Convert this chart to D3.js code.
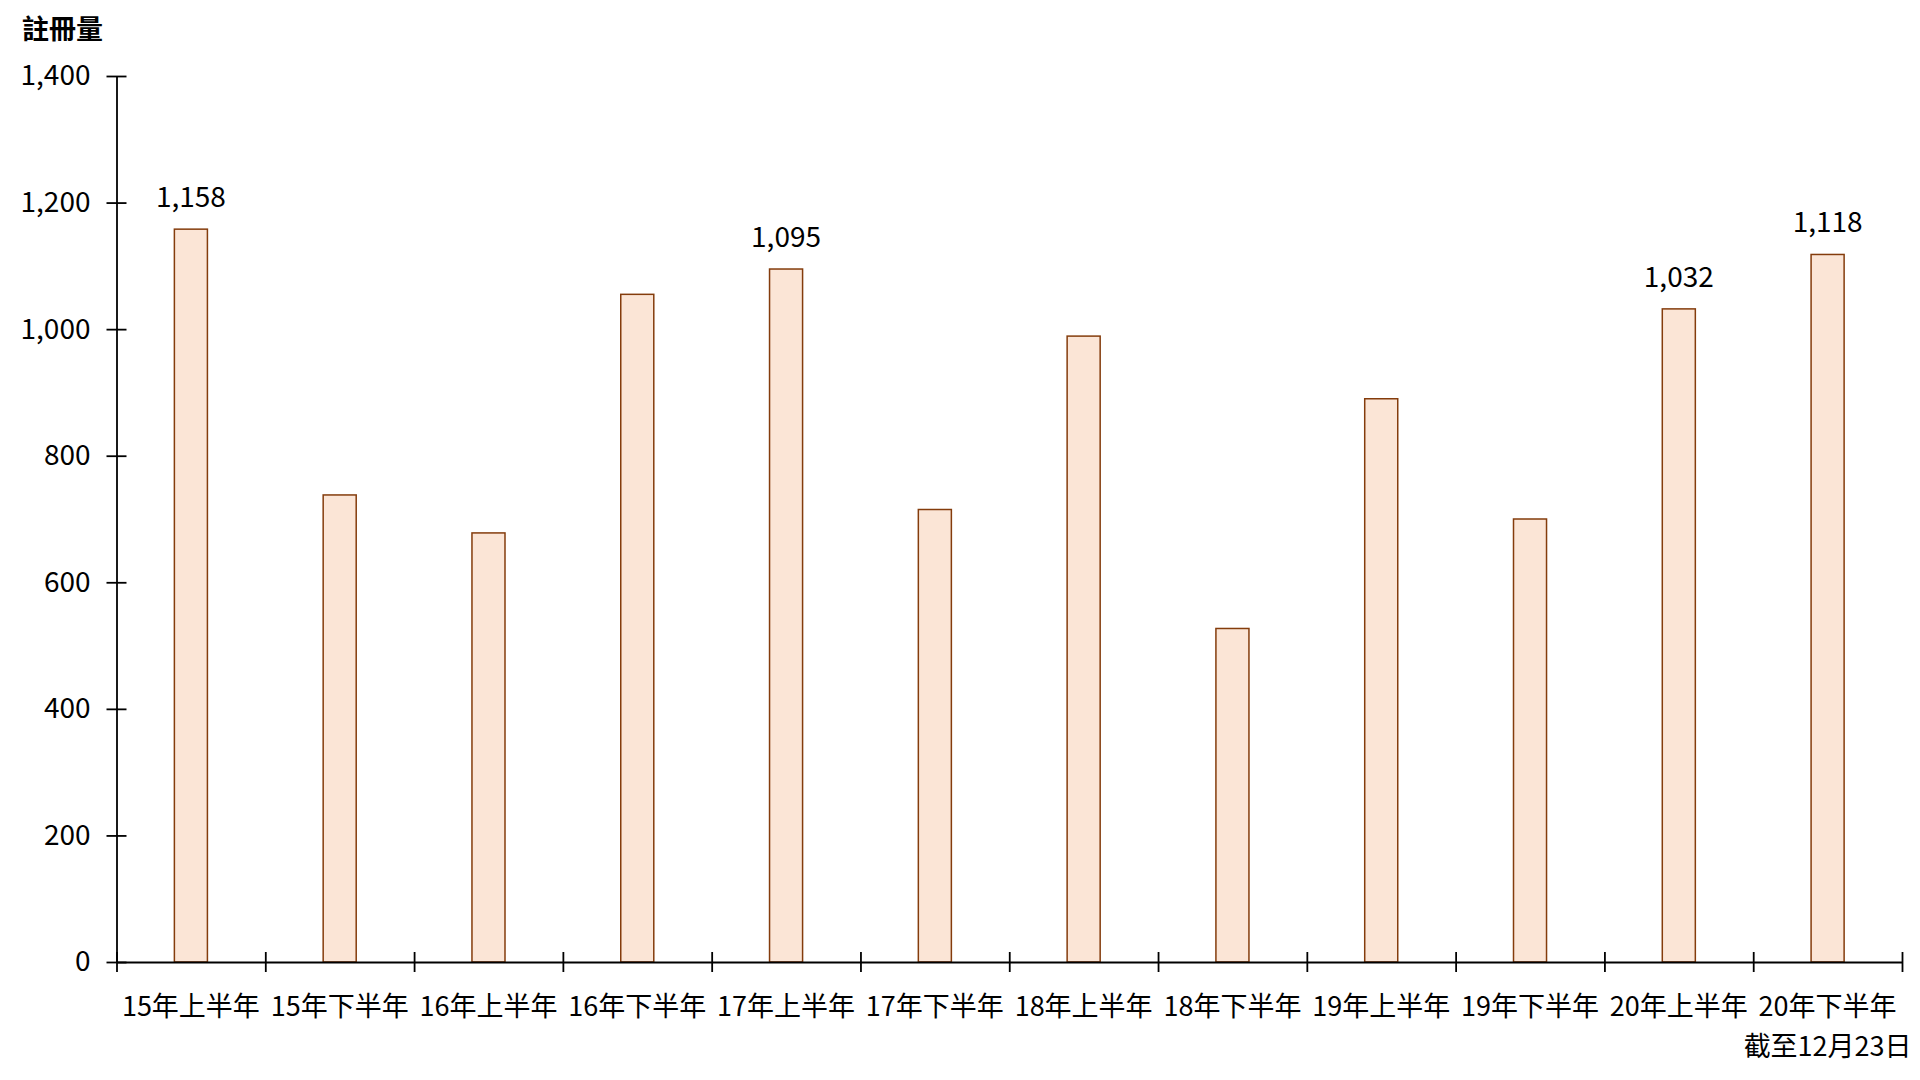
<!DOCTYPE html>
<html>
<head>
<meta charset="utf-8">
<script src="https://cdn.jsdelivr.net/npm/d3@7"></script>
<style>
  html, body { margin: 0; padding: 0; background: #fff; }
  svg text { font-family: "Noto Sans CJK TC", "Noto Sans", sans-serif; fill: #000; }
</style>
</head>
<body>
<div id="canvas" class="canvas"></div>
<script>
// data
var categories = ['15年上半年','15年下半年','16年上半年','16年下半年','17年上半年','17年下半年',
                  '18年上半年','18年下半年','19年上半年','19年下半年','20年上半年','20年下半年'];
var subLabels = ['','','','','','','','','','','','截至12月23日'];
var values = [1158, 738, 678, 1055, 1095, 715, 989, 527, 890, 700, 1032, 1118];
var shownLabels = [true, false, false, false, true, false, false, false, false, false, true, true];
var yTicks = [0, 200, 400, 600, 800, 1000, 1200, 1400];
var yTitle = '註冊量';

var outerWidth = 1920, outerHeight = 1080;
var m = {t:76, r:18, b:118, l:116.5};
var w = outerWidth - m.l - m.r,
    h = outerHeight - m.t - m.b;

var svg = d3.select('.canvas')
    .append('svg')
    .attr('width', outerWidth)
    .attr('height', outerHeight);

var plot = svg.append('g')
    .attr('transform', 'translate(' + m.l + ',' + m.t + ')');

// scales
var scaleX = d3.scaleBand()
    .domain(categories)
    .range([0, w])
    .padding(0);
var scaleEdge = d3.scaleLinear()
    .domain([0, categories.length])
    .range([0, w]);
var scaleY = d3.scaleLinear()
    .domain([0, 1400])
    .range([h, 0]);

var barW = scaleX.bandwidth() * 0.222;

// bars
plot.selectAll('.bar')
    .data(values)
    .enter()
    .append('rect')
    .attr('class', 'bar')
    .attr('x', function(d, i){ return scaleX(categories[i]) + scaleX.bandwidth()/2 - barW/2; })
    .attr('y', function(d){ return scaleY(d); })
    .attr('width', barW)
    .attr('height', function(d){ return h - scaleY(d); })
    .style('fill', '#FBE5D6')
    .style('stroke', '#843C0C')
    .style('stroke-width', 1.5);

// data labels
plot.selectAll('.val')
    .data(values)
    .enter()
    .filter(function(d, i){ return shownLabels[i]; })
    .append('text')
    .attr('class', 'val')
    .attr('x', function(d){ return scaleX(categories[values.indexOf(d)]) + scaleX.bandwidth()/2; })
    .attr('y', function(d){ return scaleY(d) - 22; })
    .attr('text-anchor', 'middle')
    .style('font-size', '28px')
    .text(function(d){ return d3.format(',')(d); });

// y axis
var axisY = d3.axisLeft(scaleY)
    .tickValues(yTicks)
    .tickFormat(d3.format(','))
    .tickSizeOuter(0)
    .tickPadding(20);
var gy = plot.append('g').attr('class', 'axis-y').call(axisY);
gy.selectAll('.tick line').attr('x1', -10).attr('x2', 10);

// x axis, ticks at band edges
var axisX = d3.axisBottom(scaleEdge)
    .tickValues(d3.range(categories.length + 1))
    .tickFormat('')
    .tickSizeOuter(0);
var gx = plot.append('g')
    .attr('class', 'axis-x')
    .attr('transform', 'translate(0,' + h + ')')
    .call(axisX);
gx.selectAll('.tick line').attr('y1', -10).attr('y2', 10);

svg.selectAll('.domain, .tick line')
    .style('stroke', '#000')
    .style('stroke-width', 1.8);
gy.selectAll('.tick text').style('font-size', '28px');

// category labels
var cat = plot.append('g').attr('class', 'cats')
    .attr('transform', 'translate(0,' + h + ')');
cat.selectAll('.cat')
    .data(categories)
    .enter()
    .append('text')
    .attr('class', 'cat')
    .attr('x', function(d){ return scaleX(d) + scaleX.bandwidth()/2; })
    .attr('y', 54)
    .attr('text-anchor', 'middle')
    .style('font-size', '27px')
    .text(function(d){ return d; });
cat.selectAll('.sub')
    .data(categories)
    .enter()
    .filter(function(d, i){ return subLabels[i] !== ''; })
    .append('text')
    .attr('class', 'sub')
    .attr('x', function(d){ return scaleX(d) + scaleX.bandwidth()/2; })
    .attr('y', 94)
    .attr('text-anchor', 'middle')
    .style('font-size', '27px')
    .text(function(d){ return subLabels[categories.indexOf(d)]; });

// y title
svg.append('text')
    .attr('x', 22)
    .attr('y', 39)
    .style('font-size', '27px')
    .style('font-weight', 'bold')
    .text(yTitle);
</script>
</body>
</html>
